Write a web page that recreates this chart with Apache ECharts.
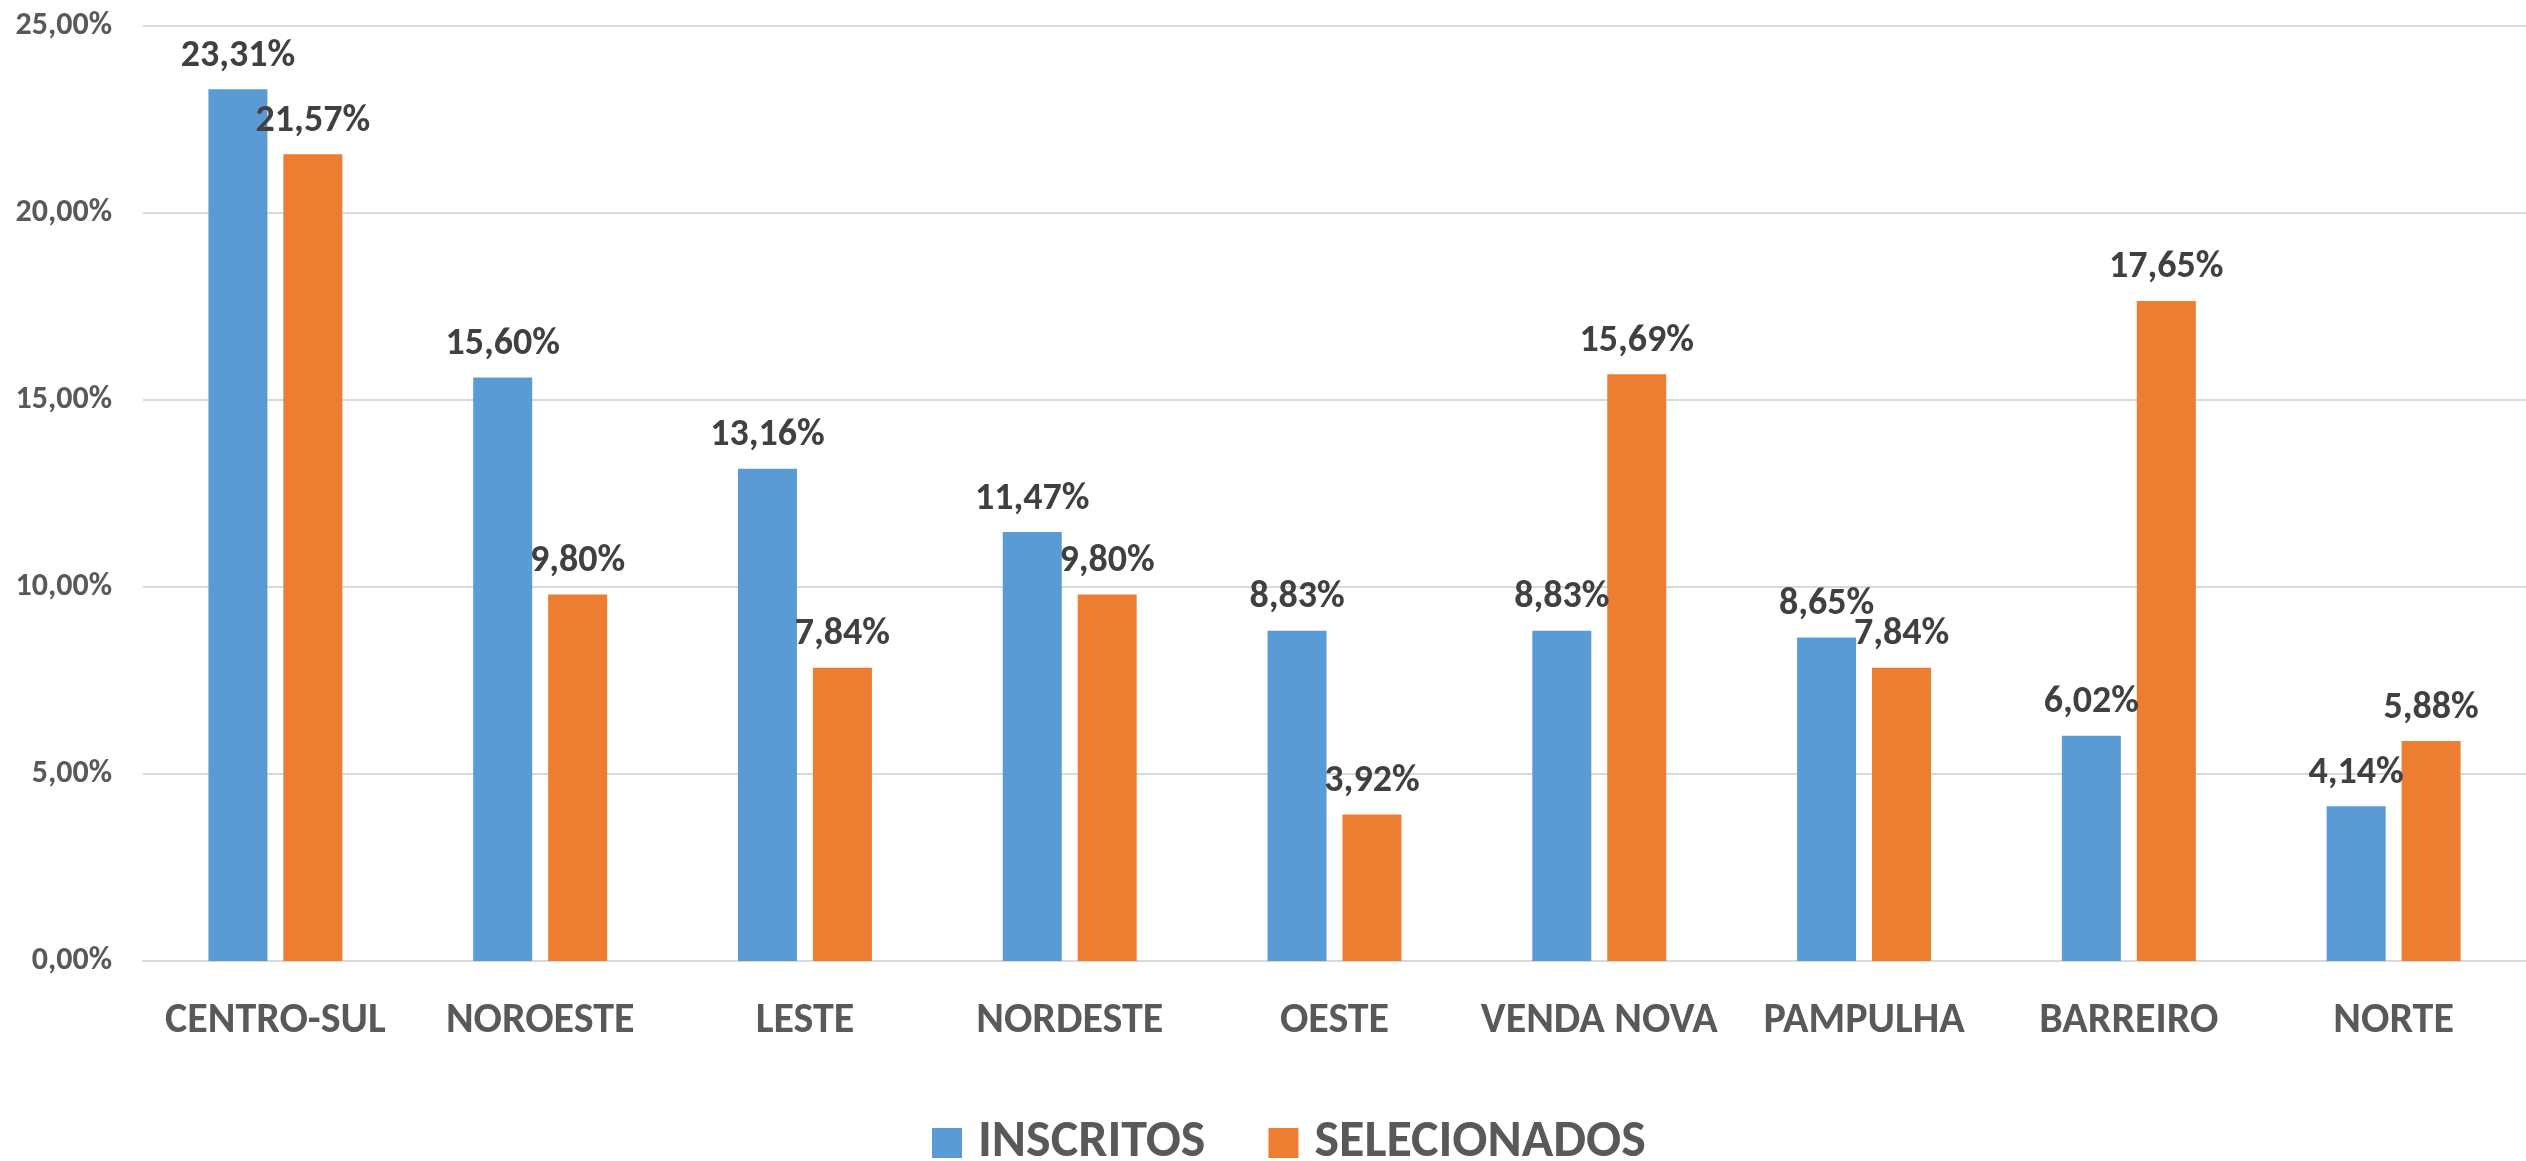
<!DOCTYPE html>
<html>
<head>
<meta charset="utf-8">
<script src="https://cdn.jsdelivr.net/npm/echarts@6/dist/echarts.min.js"></script>
<style>
	html, body { margin: 0; padding: 0; background: #fff; }
	#chart { width: 2526px; height: 1161px; }
</style>
</head>
<body>
<div id="chart"></div>
<script>
const regioes = ['CENTRO-SUL', 'NOROESTE', 'LESTE', 'NORDESTE', 'OESTE', 'VENDA NOVA', 'PAMPULHA', 'BARREIRO', 'NORTE']
const inscritos = [23.31, 15.60, 13.16, 11.47, 8.83, 8.83, 8.65, 6.02, 4.14]
const selecionados = [21.57, 9.80, 7.84, 9.80, 3.92, 15.69, 7.84, 17.65, 5.88]
const yTicks = [0, 5, 10, 15, 20, 25]

const font = 'Carlito, Lato, sans-serif'
const pct = (v) => v.toFixed(2).replace('.', ',') + '%'

const myChart = echarts.init(document.getElementById('chart'))

const barLabel = {
	show: true,
	position: 'top',
	distance: 14,
	color: '#404040',
	fontFamily: font,
	fontWeight: 'bold',
	fontSize: 38,
	formatter: (p) => pct(p.value),
}

myChart.setOption({
	animation: false,
	color: ['#5B9BD5', '#ED7D31'],
	grid: {
		left: 143,
		right: -5,
		top: 26,
		bottom: 200,
	},
	legend: {
		left: 927,
		top: 1112,
		itemWidth: 30,
		itemHeight: 30,
		itemGap: 63,
		icon: 'rect',
		textStyle: {
			color: '#595959',
			fontFamily: font,
			fontWeight: 'bold',
			fontSize: 52,
			padding: [0, 0, 0, 11],
		},
		data: ['INSCRITOS', 'SELECIONADOS'],
	},
	xAxis: {
		type: 'category',
		data: regioes,
		axisTick: { show: false },
		axisLine: { lineStyle: { color: '#D9D9D9', width: 2 } },
		axisLabel: {
			interval: 0,
			margin: 39,
			color: '#595959',
			fontFamily: font,
			fontWeight: 'bold',
			fontSize: 42,
		},
	},
	yAxis: {
		type: 'value',
		min: yTicks[0],
		max: yTicks[yTicks.length - 1],
		interval: 5,
		axisLine: { show: false },
		axisTick: { show: false },
		splitLine: { lineStyle: { color: '#D9D9D9', width: 2 } },
		axisLabel: {
			margin: 31,
			color: '#595959',
			fontFamily: font,
			fontWeight: 'bold',
			fontSize: 32,
			formatter: (v) => pct(v),
		},
	},
	series: [
		{
			name: 'INSCRITOS',
			type: 'bar',
			data: inscritos,
			barWidth: 59,
			barGap: '27%',
			label: barLabel,
		},
		{
			name: 'SELECIONADOS',
			type: 'bar',
			data: selecionados,
			barWidth: 59,
			barGap: '27%',
			label: barLabel,
		},
	],
})
</script>
</body>
</html>
